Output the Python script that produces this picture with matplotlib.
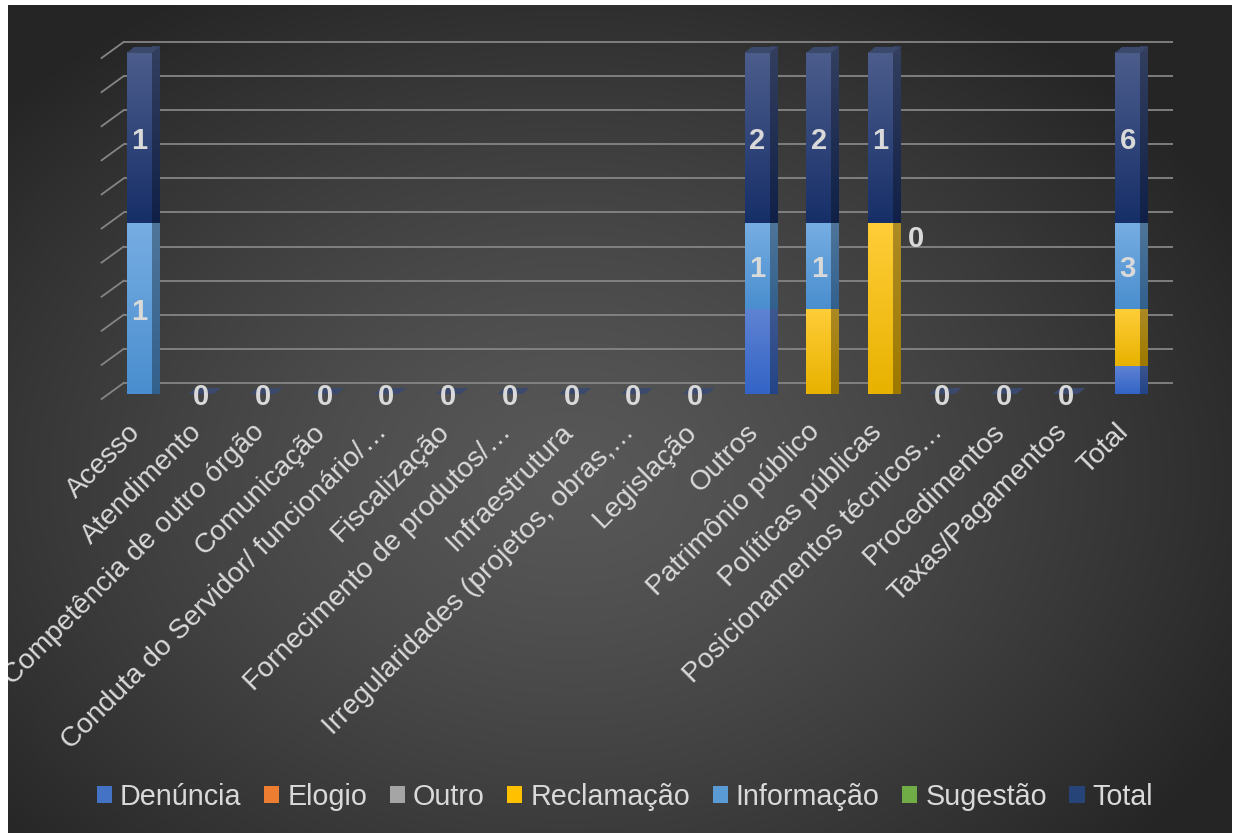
import numpy as np
import matplotlib.pyplot as plt
from matplotlib.colors import LinearSegmentedColormap, to_rgb
from matplotlib.patches import Polygon, Rectangle
from matplotlib.transforms import ScaledTranslation

plt.rcParams['font.family'] = ['Liberation Sans', 'DejaVu Sans']

# Data (100% stacked 3D column chart)
categories = ['Acesso', 'Atendimento', 'Competência de outro órgão', 'Comunicação',
              'Conduta do Servidor/ funcionário/…', 'Fiscalização',
              'Fornecimento de produtos/…', 'Infraestrutura',
              'Irregularidades (projetos, obras,…', 'Legislação', 'Outros',
              'Patrimônio público', 'Políticas públicas', 'Posicionamentos técnicos…',
              'Procedimentos', 'Taxas/Pagamentos', 'Total']
series_names = ['Denúncia', 'Elogio', 'Outro', 'Reclamação', 'Informação', 'Sugestão', 'Total']
denuncia = [0, 0, 0, 0, 0, 0, 0, 0, 0, 0, 1, 0, 0, 0, 0, 0, 1]
elogio = [0, 0, 0, 0, 0, 0, 0, 0, 0, 0, 0, 0, 0, 0, 0, 0, 0]
outro = [0, 0, 0, 0, 0, 0, 0, 0, 0, 0, 0, 0, 0, 0, 0, 0, 0]
reclamacao = [0, 0, 0, 0, 0, 0, 0, 0, 0, 0, 0, 1, 1, 0, 0, 0, 2]
informacao = [1, 0, 0, 0, 0, 0, 0, 0, 0, 0, 1, 1, 0, 0, 0, 0, 3]
sugestao = [0, 0, 0, 0, 0, 0, 0, 0, 0, 0, 0, 0, 0, 0, 0, 0, 0]
total = [1, 0, 0, 0, 0, 0, 0, 0, 0, 0, 2, 2, 1, 0, 0, 0, 6]

# (top colour, bottom colour) of each series gradient
series_colors = [('#5f83d3', '#3364c6'), ('#f29660', '#d9691f'), ('#bdbdbd', '#939393'),
                 ('#ffcd38', '#e8b200'), ('#76ade2', '#4a8ecf'), ('#88c262', '#5c9a36'),
                 ('#4c5d8c', '#172f68')]
legend_colors = ['#4472c4', '#ed7d31', '#a5a5a5', '#ffc000', '#5b9bd5', '#70ad47', '#264478']
labelled = {'Informação', 'Total'}

data = np.array([denuncia, elogio, outro, reclamacao, informacao, sugestao, total], float)
sums = data.sum(axis=0)
pct = np.divide(data * 100, sums, out=np.zeros_like(data), where=sums > 0)

W, H = 1239, 833
fig = plt.figure(figsize=(W / 100, H / 100), dpi=100)
fig.patch.set_facecolor('white')

# dark radial background
bg = fig.add_axes([8 / W, 0, 1224 / W, 828 / H])
yy, xx = np.mgrid[0:828, 0:1224]
r = np.sqrt(((xx - 560) / 760.0) ** 2 + ((yy - 470) / 560.0) ** 2)
r = np.clip(r, 0, 1) ** 1.3
c0, c1 = np.array([0x58, 0x58, 0x58]) / 255, np.array([0x25, 0x25, 0x25]) / 255
img = c0[None, None, :] + (c1 - c0)[None, None, :] * r[:, :, None]
bg.imshow(img, aspect='auto', extent=[0, 1, 0, 1], interpolation='bilinear')
bg.axis('off')

ax = fig.add_axes([108.6 / W, 1 - 394 / H, 1049.8 / W, 341 / H])
ax.patch.set_alpha(0)
for s in ax.spines.values():
    s.set_visible(False)

px_x = 1 / 61.75
px_y = 100 / 341.0
grid_c = '#858585'

# back wall gridlines + left wall diagonals
fdx, fdy = -7 * px_x, -5 * px_y
bdx, bdy = 15 * px_x, 11 * px_y
for p in range(0, 101, 10):
    ax.plot([-0.5 + bdx, 16.5 + bdx], [p + bdy, p + bdy], color=grid_c, lw=1.3,
            zorder=1, clip_on=False, solid_capstyle='butt')
    ax.plot([-0.5 + fdx, -0.5 + bdx], [p + fdy, p + bdy], color=grid_c, lw=1.3,
            zorder=1, clip_on=False)

bw = 25 * px_x
ddx, ddy = 7 * px_x, 6 * px_y
x = np.arange(len(categories))


def shade(c, f):
    return tuple(np.array(to_rgb(c)) * f)


def grad_fill(x0, x1, y0, y1, ctop, cbot, z, clip=None):
    cmap = LinearSegmentedColormap.from_list('g', [cbot, ctop])
    im = ax.imshow(np.linspace(0, 1, 64).reshape(-1, 1), cmap=cmap, origin='lower',
                   extent=[x0, x1, y0, y1], aspect='auto', zorder=z,
                   interpolation='bilinear', clip_on=False)
    if clip is not None:
        im.set_clip_path(clip)


bottom = np.zeros(len(categories))
handles = []
for k, name in enumerate(series_names):
    ctop, cbot = series_colors[k]
    h = ax.bar(x, pct[k], bottom=bottom, width=bw, color=legend_colors[k],
               label=name, zorder=3, clip_on=False)
    handles.append(h)
    for i in x:
        v = pct[k][i]
        if v <= 0:
            continue
        y0, y1 = bottom[i], bottom[i] + v
        x0, x1 = i - bw / 2, i + bw / 2
        grad_fill(x0, x1, y0, y1, ctop, cbot, 4)
        side = Polygon([(x1, y0), (x1 + ddx, y0 + ddy), (x1 + ddx, y1 + ddy), (x1, y1)],
                       closed=True, facecolor='none', edgecolor='none',
                       transform=ax.transData, zorder=4, clip_on=False)
        ax.add_patch(side)
        grad_fill(x1, x1 + ddx, y0, y1 + ddy, shade(ctop, 0.68), shade(cbot, 0.68), 4, side)
    bottom = bottom + pct[k]

# top faces of each column (also the flat ones at zero)
for i in x:
    x0, x1 = i - bw / 2, i + bw / 2
    y1 = bottom[i]
    ax.add_patch(Polygon([(x0, y1), (x0 + ddx, y1 + ddy), (x1 + ddx, y1 + ddy), (x1, y1)],
                         closed=True, facecolor=shade(series_colors[6][0], 0.78),
                         edgecolor='none', zorder=5, clip_on=False))

# data labels
lab_kw = dict(ha='center', va='center', fontsize=21, fontweight='bold',
              color='#d9d9d9', zorder=8, clip_on=False)
ydrop = 0.9
base = np.zeros(len(categories))
for k, name in enumerate(series_names):
    for i in x:
        v = pct[k][i]
        if name in labelled and data[k][i] > 0:
            ax.text(i, base[i] + v / 2 - ydrop, f'{int(data[k][i])}', **lab_kw)
    base = base + pct[k]
for i in x:
    if sums[i] == 0:
        ax.text(i, -ydrop, '0', **lab_kw)
# Informação = 0 on "Políticas públicas"
i_pp = categories.index('Políticas públicas')
ax.text(i_pp + 0.575, pct[:4, i_pp].sum() - 4.6, '0', **lab_kw)

ax.set_xlim(-0.5, 16.5)
ax.set_ylim(0, 100)
ax.set_yticks([])
ax.set_xticks(x)
ax.set_xticklabels(categories, rotation=45, ha='right', va='top',
                   rotation_mode='anchor', fontsize=20.3, color='#d9d9d9')
ax.tick_params(axis='x', length=0, pad=18)
for lbl in ax.get_xticklabels():
    lbl.set_transform(lbl.get_transform() + ScaledTranslation(-0.12, 0, fig.dpi_scale_trans))

leg = fig.legend(handles=handles, labels=series_names, loc='center',
                 bbox_to_anchor=(625 / W, 1 - 797 / H), ncol=7, frameon=False,
                 fontsize=20.7, labelcolor='#d9d9d9', handlelength=0.53,
                 handleheight=0.53, handletextpad=0.28, columnspacing=0.78)

# white frame strips around the chart area
fig.patches.append(Rectangle((0, 0), 8 / W, 1, transform=fig.transFigure,
                             facecolor='white', edgecolor='none', zorder=20))
fig.patches.append(Rectangle((0, 1 - 5 / H), 1, 5 / H, transform=fig.transFigure,
                             facecolor='white', edgecolor='none', zorder=20))
fig.patches.append(Rectangle((1232 / W, 0), 7 / W, 1, transform=fig.transFigure,
                             facecolor='white', edgecolor='none', zorder=20))

fig.savefig('out.png', dpi=100)
